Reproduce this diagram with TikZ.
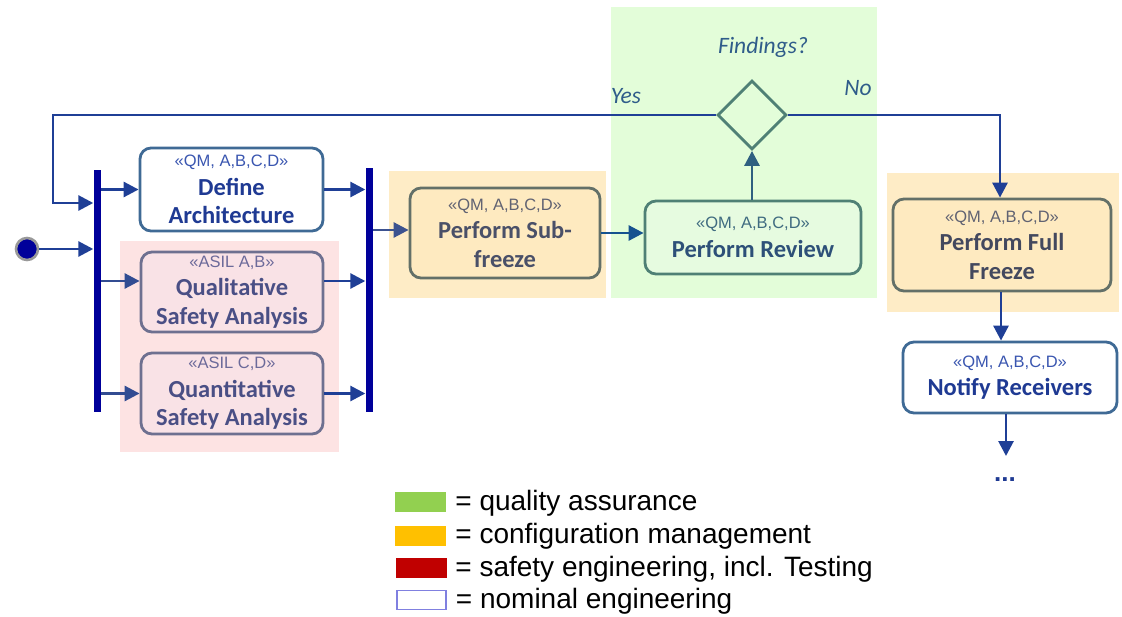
\documentclass[tikz,border=0pt]{standalone}
\usepackage{fontspec}
\setmainfont{Carlito}
\newfontfamily\arialf{Liberation Sans}
\usetikzlibrary{arrows.meta,shapes.geometric}

\definecolor{navytext}{HTML}{1F3A93}
\definecolor{navystereo}{HTML}{3A56B0}
\definecolor{pinktext}{HTML}{4A4F85}
\definecolor{pinkstereo}{HTML}{6C6A9A}
\definecolor{graytext}{HTML}{4A5068}
\definecolor{graystereo}{HTML}{606272}
\definecolor{tealtext}{HTML}{2D5078}
\definecolor{tealstereo}{HTML}{3F6B80}
\definecolor{steelbd}{HTML}{3F6A95}
\definecolor{pinkbd}{HTML}{6E7090}
\definecolor{graybd}{HTML}{637068}
\definecolor{tealbd}{HTML}{4F8075}
\definecolor{barblue}{HTML}{00009A}
\definecolor{flownavy}{HTML}{1F3F96}
\definecolor{flowteal}{HTML}{2F6080}
\definecolor{pinkbg}{HTML}{FDE3E3}
\definecolor{orangebg}{HTML}{FEECC6}
\definecolor{greenbg}{HTML}{E3FDD9}
\definecolor{pinkfill}{HTML}{F9E2E6}
\definecolor{orangefill}{HTML}{FEEAC0}
\definecolor{greenfill}{HTML}{E6FBE0}
\definecolor{qagreen}{HTML}{92D050}
\definecolor{cmorange}{HTML}{FFC000}
\definecolor{sered}{HTML}{C00000}
\definecolor{nebd}{HTML}{8080E0}
\definecolor{labelblue}{HTML}{2F5C8A}

% stereotype line of an action, set in a plain sans face
\newcommand{\stereo}[2]{{\arialf\mdseries\fontsize{16.5}{28}\selectfont\color{#1}#2}}

\begin{document}
\begin{tikzpicture}[x=1pt,y=-1pt,
  action/.style={draw, rounded corners=11pt, line width=2.8pt, align=center,
    inner sep=0pt, font=\bfseries\fontsize{24.5}{28.5}\selectfont},
  flow/.style={line width=2.8pt, -{Triangle[length=15pt,width=15pt]}},
  bar/.style={fill=barblue, minimum width=7pt, inner sep=0pt},
  swatch/.style={minimum width=51pt, minimum height=20pt, inner sep=0pt},
  legtext/.style={anchor=west, inner sep=0pt, font=\arialf\fontsize{28}{33}\selectfont},
  guard/.style={font=\itshape\fontsize{23.5}{26}\selectfont, text=labelblue, inner sep=0pt}]

\useasboundingbox (0,0) rectangle (1122,616);

% responsibility areas
\fill[pinkbg] (120,241) rectangle (339,452);
\fill[orangebg] (389,171) rectangle (606,298);
\fill[greenbg] (611,7) rectangle (877,298);
\fill[orangebg] (887,173) rectangle (1119,312);

% initial node, fork and join bars
\node[circle, fill=barblue, draw=gray!80, line width=2.6pt, minimum size=22pt, inner sep=0pt] (init) at (27,249) {};
\node[bar, minimum height=242pt] (fork) at (97,291) {};
\node[bar, minimum height=244pt] (join) at (369,290) {};

% actions
\node[action, draw=steelbd, fill=white, text=navytext, minimum width=183pt, minimum height=83pt] (da) at (231.5,189.5)
  {\stereo{navystereo}{«QM, A,B,C,D»}\\Define\\Architecture};
\node[action, draw=pinkbd, fill=pinkfill, text=pinktext, minimum width=182pt, minimum height=80pt] (qa) at (232,292)
  {\stereo{pinkstereo}{«ASIL A,B»}\\Qualitative\\Safety Analysis};
\node[action, draw=pinkbd, fill=pinkfill, text=pinktext, minimum width=182pt, minimum height=81pt] (qn) at (232,393.5)
  {\stereo{pinkstereo}{«ASIL C,D»}\\Quantitative\\Safety Analysis};
\node[action, draw=graybd, fill=orangefill, text=graytext, minimum width=190pt, minimum height=90pt] (sf) at (505,233)
  {\stereo{graystereo}{«QM, A,B,C,D»}\\Perform Sub-\\freeze};
\node[action, draw=tealbd, fill=greenfill, text=tealtext, minimum width=216pt, minimum height=73pt] (rv) at (753,237.5)
  {\stereo{tealstereo}{«QM, A,B,C,D»}\\Perform Review};
\node[diamond, aspect=1, draw=tealbd, fill=greenbg, line width=2.8pt, minimum size=69pt, inner sep=0pt] (dec) at (752,115) {};
\node[action, draw=graybd, fill=orangefill, text=graytext!90!black, minimum width=218pt, minimum height=92pt] (ff) at (1002,245)
  {\stereo{graystereo}{«QM, A,B,C,D»}\\Perform Full\\Freeze};
\node[action, draw=steelbd, fill=white, text=navytext, minimum width=214pt, minimum height=71pt] (nr) at (1010,377.5)
  {\stereo{navystereo}{«QM, A,B,C,D»}\\Notify Receivers};
\node[font=\arialf\bfseries\fontsize{26}{28}\selectfont, text=navytext, inner sep=0pt] (dots) at (1005,480) {...};

% guard labels
\node[guard] (q) at (763,47) {Findings?};
\node[guard] (yes) at (626,96) {Yes};
\node[guard] (no) at (858,88) {No};

% helper coordinates for the loop back and the open end
\coordinate (lx) at (53,0);
\coordinate (ly) at (0,203);
\coordinate (cont) at (1006,456);

% connectors
\draw[flow, flownavy] (init) -- (init -| fork.west);
\draw[flow, flownavy] (fork.east |- da.west) -- (da.west);
\draw[flow, flownavy!80!gray] ([yshift=11pt]fork.east |- qa.west) -- ([yshift=11pt]qa.west);
\draw[flow, flownavy!80!gray] (fork.east |- qn.west) -- (qn.west);
\draw[flow, flownavy] (da.east) -- (da.east -| join.west);
\draw[flow, flownavy] ([yshift=11pt]qa.east) -- ([yshift=11pt]qa.east -| join.west);
\draw[flow, flownavy] (qn.east) -- (qn.east -| join.west);
\draw[flow, flownavy!70!gray] ([yshift=3pt]join.east |- sf.west) -- ([yshift=3pt]sf.west);
\draw[flow, flownavy!70!teal] (sf.east) -- (sf.east -| rv.west);
\draw[flow, flowteal] (rv.north -| dec.south) -- (dec.south);
\draw[flow, flownavy] (dec.west) -- (dec.west -| lx) |- (fork.west |- ly);
\draw[flow, flownavy] (dec.east) -| ([xshift=-2pt]ff.north);
\draw[flow, flownavy] ([xshift=-1pt]ff.south) -- ([xshift=-1pt]ff.south |- nr.north);
\draw[flow, flownavy] (cont |- nr.south) -- (cont);

% legend
\node[swatch, fill=qagreen] (lg1) at (420.5,502) {};
\node[swatch, fill=cmorange] (lg2) at (420.5,535.5) {};
\node[swatch, fill=sered] (lg3) at (421.5,568) {};
\node[swatch, fill=white, draw=nebd, line width=1.5pt, minimum width=49pt, minimum height=19pt] (lg4) at (421.5,600) {};
\node[legtext] (lt1) at ([xshift=9pt,yshift=-1pt]lg1.east) {= quality assurance};
\node[legtext] (lt2) at ([xshift=9pt,yshift=-1pt]lg2.east) {= configuration management};
\node[legtext] (lt3) at ([xshift=8pt,yshift=-1pt]lg3.east) {= safety engineering, incl. Testing};
\node[legtext] (lt4) at ([xshift=9pt,yshift=-1pt]lg4.east) {= nominal engineering};
\end{tikzpicture}
\end{document}
